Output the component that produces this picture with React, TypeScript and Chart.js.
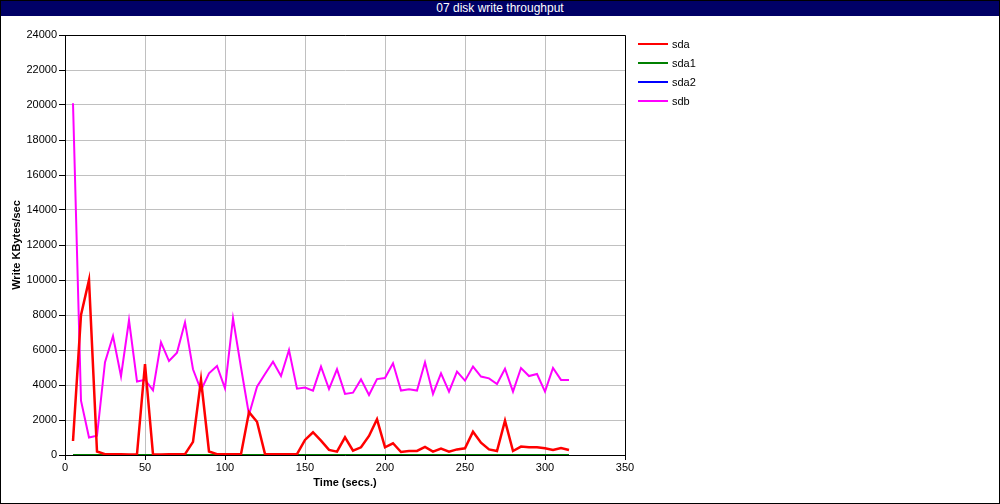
import React, { useEffect, useRef } from "react";
import { Chart, registerables } from "chart.js";

Chart.register(...registerables);

const chartTitle = "07 disk write throughput";
const xAxisTitle = "Time (secs.)";
const yAxisTitle = "Write KBytes/sec";
const seriesNames = ["sda", "sda1", "sda2", "sdb"];
const seriesColors = ["#ff0000", "#008000", "#0000ff", "#ff00ff"];

const times = [
  5, 10, 15, 20, 25, 30, 35, 40, 45, 50, 55, 60, 65, 70, 75, 80, 85, 90, 95, 100,
  105, 110, 115, 120, 125, 130, 135, 140, 145, 150, 155, 160, 165, 170, 175, 180,
  185, 190, 195, 200, 205, 210, 215, 220, 225, 230, 235, 240, 245, 250, 255, 260,
  265, 270, 275, 280, 285, 290, 295, 300, 305, 310, 315,
];

const sda = [
  800, 8000, 10000, 200, 50, 50, 50, 30, 50, 5200, 30, 30, 50, 50, 50, 750, 4300, 200, 50, 50,
  50, 50, 2450, 1900, 50, 50, 50, 50, 50, 860, 1300, 820, 290, 190, 1010, 250,
  440, 1090, 2040, 440, 670, 170, 230, 230, 460, 190, 360, 190, 320, 380, 1330, 700,
  320, 230, 1960, 230, 480, 440, 440, 380, 290, 400, 290,
];

const sda1 = [
  0, 0, 0, 0, 0, 0, 0, 0, 0, 0, 0, 0, 0, 0, 0, 0, 0, 0, 0, 0,
  0, 0, 0, 0, 0, 0, 0, 0, 0, 0, 0, 0, 0, 0, 0, 0,
  0, 0, 0, 0, 0, 0, 0, 0, 0, 0, 0, 0, 0, 0, 0, 0,
  0, 0, 0, 0, 0, 0, 0, 0, 0, 0, 0,
];

const sda2 = [
  0, 0, 0, 0, 0, 0, 0, 0, 0, 0, 0, 0, 0, 0, 0, 0, 0, 0, 0, 0,
  0, 0, 0, 0, 0, 0, 0, 0, 0, 0, 0, 0, 0, 0, 0, 0,
  0, 0, 0, 0, 0, 0, 0, 0, 0, 0, 0, 0, 0, 0, 0, 0,
  0, 0, 0, 0, 0, 0, 0, 0, 0, 0, 0,
];

const sdb = [
  20100, 3100, 1000, 1100, 5300, 6800, 4500, 7700, 4200, 4300, 3700, 6440, 5370, 5850, 7580, 4900, 3700, 4670, 5090, 3810,
  7810, 5000, 2300, 3900, 4630, 5330, 4510, 6000, 3790, 3850, 3680, 5050, 3770, 4900, 3490, 3560,
  4320, 3430, 4340, 4400, 5240, 3680, 3750, 3680, 5300, 3490, 4670, 3620, 4760, 4250, 5050, 4480,
  4380, 4060, 4930, 3620, 4970, 4510, 4630, 3620, 4970, 4290, 4290,
];

const seriesValues = [sda, sda1, sda2, sdb];

const FONT = "'Liberation Sans', Arial, Helvetica, sans-serif";

const frameBorder = {
  id: "frameBorder",
  afterDraw(chart: any) {
    const { ctx, chartArea } = chart;
    ctx.save();
    ctx.strokeStyle = "#000000";
    ctx.lineWidth = 1;
    ctx.beginPath();
    ctx.moveTo(chartArea.left, chartArea.top + 0.5);
    ctx.lineTo(chartArea.right + 0.5, chartArea.top + 0.5);
    ctx.lineTo(chartArea.right + 0.5, chartArea.bottom);
    ctx.stroke();
    ctx.restore();
  },
};

export default function App() {
  const canvasRef = useRef<HTMLCanvasElement | null>(null);

  useEffect(() => {
    if (!canvasRef.current) return;
    const datasets = seriesNames.map((name, i) => ({
      label: name,
      data: times.map((t, j) => ({ x: t, y: seriesValues[i][j] })),
      borderColor: seriesColors[i],
      backgroundColor: seriesColors[i],
      borderWidth: i === 0 ? 2.5 : 2,
      pointRadius: 0,
      tension: 0,
      fill: false,
    }));
    const chart = new Chart(canvasRef.current, {
      type: "line",
      data: { datasets },
      options: {
        animation: false,
        responsive: false,
        maintainAspectRatio: false,
        layout: { padding: { left: 0, top: 35, right: 375, bottom: 0 } },
        plugins: {
          legend: { display: false },
          title: { display: false },
          tooltip: { enabled: false },
        },
        scales: {
          x: {
            type: "linear",
            min: 0,
            max: 350,
            afterFit: (scale: any) => {
              scale.height = 49;
            },
            ticks: {
              stepSize: 50,
              color: "#000000",
              font: { family: FONT, size: 11 },
              padding: 1,
              maxRotation: 0,
              callback: (v: any) => String(v),
            },
            grid: {
              color: "#c0c0c0",
              tickColor: "#000000",
              tickLength: 5,
              lineWidth: 1,
            },
            border: { color: "#000000", width: 1 },
            title: {
              display: true,
              text: xAxisTitle,
              color: "#000000",
              font: { family: FONT, size: 11, weight: "bold" },
              padding: { top: 14, bottom: 14 },
            },
          },
          y: {
            min: 0,
            max: 24000,
            afterFit: (scale: any) => {
              scale.width = 65;
            },
            ticks: {
              stepSize: 2000,
              color: "#000000",
              font: { family: FONT, size: 11 },
              padding: 2,
              callback: (v: any) => String(v),
            },
            grid: {
              color: "#c0c0c0",
              tickColor: "#000000",
              tickLength: 6,
              lineWidth: 1,
            },
            border: { color: "#000000", width: 1 },
            title: {
              display: true,
              text: yAxisTitle,
              color: "#000000",
              font: { family: FONT, size: 11, weight: "bold" },
              padding: { top: 10, bottom: 10 },
            },
          },
        },
      },
      plugins: [frameBorder],
    });
    return () => chart.destroy();
  }, []);

  return (
    <div
      style={{
        position: "fixed",
        left: 0,
        top: 0,
        width: 1000,
        height: 504,
        background: "#ffffff",
        overflow: "hidden",
      }}
    >
      <canvas
        ref={canvasRef}
        width={1000}
        height={504}
        style={{ position: "absolute", left: 0, top: 0, width: 1000, height: 504 }}
      />
      <div
        style={{
          position: "absolute",
          left: 0,
          top: 0,
          width: 1000,
          height: 16,
          background: "#000066",
          color: "#ffffff",
          fontFamily: FONT,
          fontSize: 12,
          lineHeight: "16px",
          textAlign: "center",
        }}
      >
        {chartTitle}
      </div>
      {seriesNames.map((name, i) => (
        <div
          key={name}
          style={{
            position: "absolute",
            left: 638,
            top: 44 + i * 18.9 - 7,
            height: 14,
            display: "flex",
            alignItems: "center",
            fontFamily: FONT,
            fontSize: 11,
            color: "#000000",
          }}
        >
          <span
            style={{
              display: "inline-block",
              width: 30,
              height: 2,
              background: seriesColors[i],
              marginRight: 4,
            }}
          />
          <span>{name}</span>
        </div>
      ))}
      <div
        style={{
          position: "absolute",
          left: 0,
          top: 0,
          width: 1000,
          height: 504,
          boxSizing: "border-box",
          border: "1px solid #000000",
          pointerEvents: "none",
        }}
      />
    </div>
  );
}
